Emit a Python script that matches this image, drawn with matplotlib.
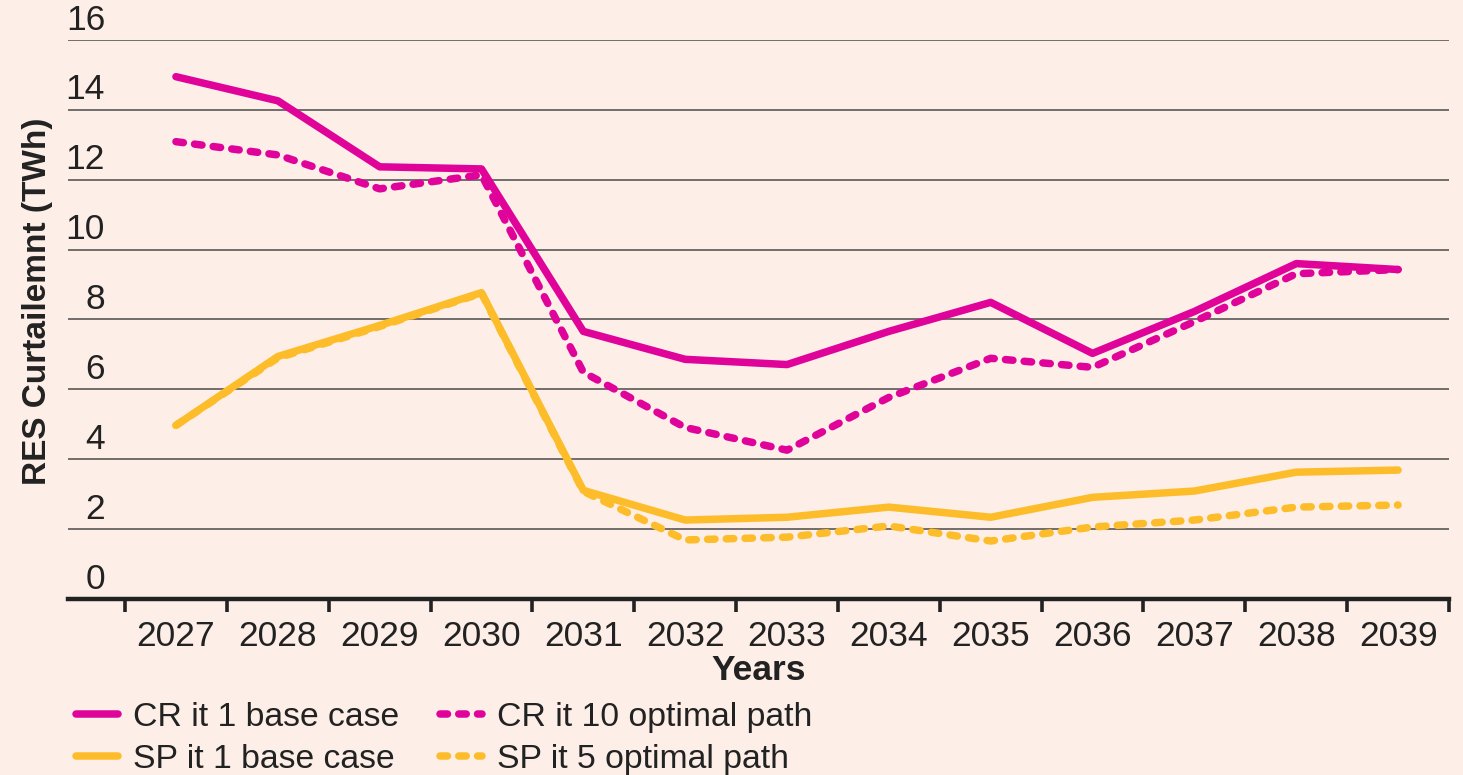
import matplotlib
matplotlib.use('Agg')
import matplotlib.pyplot as plt
import numpy as np
from matplotlib.lines import Line2D

BG = '#fdefe8'
MAGENTA = '#e0039a'
YELLOW = '#fdbd2a'
INK = '#222222'

years = ['2027', '2028', '2029', '2030', '2031', '2032', '2033',
         '2034', '2035', '2036', '2037', '2038', '2039']
cr_base = [14.95, 14.26, 12.37, 12.31, 7.66, 6.86, 6.71, 7.66, 8.49, 7.03, 8.23, 9.60, 9.43]
cr_opt = [13.09, 12.71, 11.74, 12.14, 6.49, 4.91, 4.26, 5.77, 6.89, 6.63, 7.94, 9.31, 9.43]
sp_base = [4.97, 6.94, 7.83, 8.77, 3.11, 2.26, 2.34, 2.63, 2.34, 2.91, 3.09, 3.63, 3.69]
sp_opt = [4.97, 6.90, 7.80, 8.75, 3.08, 1.69, 1.77, 2.09, 1.66, 2.06, 2.26, 2.63, 2.69]
y_ticks = [0, 2, 4, 6, 8, 10, 12, 14, 16]

plt.rcParams['font.family'] = ['Liberation Sans', 'DejaVu Sans']
FS = 25.5

fig = plt.figure(figsize=(14.63, 7.75), dpi=100)
fig.patch.set_facecolor(BG)
ax = fig.add_axes([68 / 1463, 176 / 775, 1381 / 1463, 559 / 775])
ax.set_facecolor(BG)

x = np.arange(len(years))
LW = 5.4
DASH = (0, (1.0, 1.5))
ax.plot(x, sp_opt, color=YELLOW, lw=LW, ls=DASH, dash_capstyle='round', zorder=3)
ax.plot(x, sp_base, color=YELLOW, lw=LW, solid_capstyle='round', zorder=4)
ax.plot(x, cr_opt, color=MAGENTA, lw=LW, ls=DASH, dash_capstyle='round', zorder=5)
ax.plot(x, cr_base, color=MAGENTA, lw=LW, solid_capstyle='round', zorder=6)

ax.set_xlim(-1.06, 12.5)
ax.set_ylim(0, 16)

# horizontal grid plus y labels sitting above each line
for v in y_ticks[1:]:
    ax.axhline(v, color='#4a4a4a', lw=1.1, zorder=1)
for v in y_ticks:
    ax.annotate(str(v), xy=(0.0268, v), xycoords=('axes fraction', 'data'),
                xytext=(0, 2.5), textcoords='offset points',
                ha='right', va='bottom', fontsize=FS, color=INK)
ax.set_yticks([])

# boundary ticks between years, labels at the year centres
ax.set_xticks(np.arange(-0.5, 12.6, 1.0))
ax.set_xticklabels([])
ax.set_xticks(x, minor=True)
ax.set_xticklabels(years, minor=True, fontsize=FS, color=INK)
ax.tick_params(axis='x', which='major', direction='out', length=9, width=2.6, color=INK)
ax.tick_params(axis='x', which='minor', length=0, pad=15)

for name in ['top', 'right', 'left']:
    ax.spines[name].set_visible(False)
ax.spines['bottom'].set_linewidth(3.2)
ax.spines['bottom'].set_color(INK)

ax.set_xlabel('Years', fontsize=FS, fontweight='bold', color=INK, labelpad=1)
fig.text(38 / 1463, 1 - 301 / 775, 'RES Curtailemnt (TWh)', rotation=90,
         ha='center', va='center', fontsize=24, fontweight='bold', color=INK)

handles = [
    Line2D([], [], color=MAGENTA, lw=LW, solid_capstyle='round'),
    Line2D([], [], color=YELLOW, lw=LW, solid_capstyle='round'),
    Line2D([], [], color=MAGENTA, lw=LW, ls=DASH, dash_capstyle='round'),
    Line2D([], [], color=YELLOW, lw=LW, ls=DASH, dash_capstyle='round'),
]
labels = ['CR it 1 base case', 'SP it 1 base case',
          'CR it 10 optimal path', 'SP it 5 optimal path']
fig.legend(handles, labels, ncol=2, loc='upper left',
           bbox_to_anchor=(76 / 1463, 1 - 702 / 775), frameon=False,
           fontsize=24.3, labelcolor=INK, handlelength=1.25, handletextpad=0.45,
           columnspacing=1.2, labelspacing=0.32, borderaxespad=0, borderpad=0)

fig.savefig('out.png', dpi=100, facecolor=BG)
